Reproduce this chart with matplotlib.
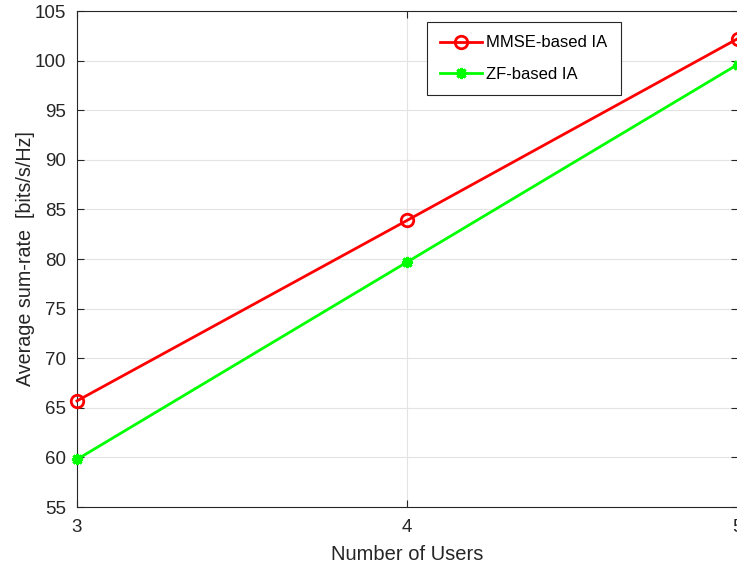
import matplotlib
matplotlib.use("Agg")
import matplotlib.pyplot as plt

plt.rcParams['font.family'] = ['Liberation Sans', 'DejaVu Sans']

# sum-rate vs number of users
users = [3, 4, 5]
mmse_rate = [65.7, 83.9, 102.2]
zf_rate = [59.8, 79.7, 99.6]

fig = plt.figure(figsize=(7.37, 5.68), dpi=100)
ax = fig.add_axes([77/737, 1 - 507/568, 660.5/737, 496/568])

ax.plot(users, mmse_rate, color='#ff0000', lw=2, marker='o', ms=9,
        mfc='none', mew=2, label='MMSE-based IA', clip_on=False, zorder=3)
ax.plot(users, zf_rate, color='#00ff00', lw=2, marker=(8, 2, 0), ms=8,
        mew=2.2, label='ZF-based IA', clip_on=False, zorder=3)

ax.set_xlim(3, 5)
ax.set_ylim(55, 105)
ax.set_xticks(users)
ax.set_yticks(range(55, 106, 5))
ax.grid(True, color='#e3e3e3', lw=0.8)
ax.set_axisbelow(True)
for s in ax.spines.values():
    s.set_color('#262626')
    s.set_linewidth(0.8)
ax.tick_params(labelsize=13.5, colors='#262626', direction='in', length=5, width=0.8,
               top=True, right=True)
ax.tick_params(axis='y', pad=8)
ax.tick_params(axis='x', pad=9)
ax.set_xlabel('Number of Users', fontsize=14.5, color='#262626', labelpad=6)
ax.set_ylabel('Average sum-rate  [bits/s/Hz]', fontsize=14.2, color='#262626', labelpad=0)

leg = ax.legend(loc='upper left', bbox_to_anchor=(427/737, 1 - 22/568),
                bbox_transform=fig.transFigure, fontsize=12, fancybox=False,
                edgecolor='#262626', framealpha=1, handlelength=2.5,
                borderpad=0.8, labelspacing=1.0,
                handletextpad=0.25, borderaxespad=0)
leg.get_frame().set_linewidth(0.8)

fig.savefig('out.png', dpi=100)
